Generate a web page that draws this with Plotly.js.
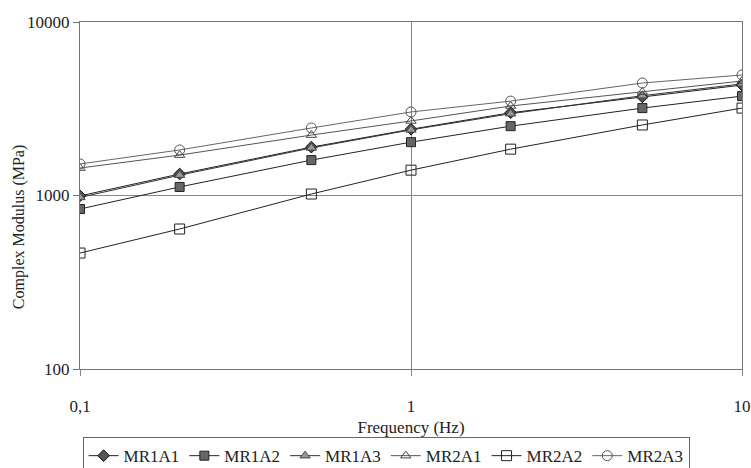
<!DOCTYPE html>
<html>
<head>
<meta charset="utf-8">
<script src="https://cdn.plot.ly/plotly-3.0.1.min.js"></script>
<style>html,body{margin:0;padding:0;background:#fff;}#chart{width:751px;height:468px;}</style>
</head>
<body>
<div id="chart"></div>
<script>
var frequency = [0.1, 0.2, 0.5, 1, 2, 5, 10];
var seriesNames = ["MR1A1", "MR1A2", "MR1A3", "MR2A1", "MR2A2", "MR2A3"];
var MR1A1 = [995, 1330, 1900, 2410, 3000, 3700, 4330];
var MR1A2 = [836, 1120, 1600, 2030, 2510, 3190, 3740];
var MR1A3 = [975, 1310, 1880, 2390, 2960, 3760, 4400];
var MR2A1 = [1440, 1710, 2230, 2690, 3280, 3950, 4570];
var MR2A2 = [466, 641, 1020, 1400, 1850, 2550, 3190];
var MR2A3 = [1520, 1830, 2450, 3030, 3500, 4450, 4950];
var yTickVals = [100, 1000, 10000];
var yTickText = ["100", "1000", "10000"];
var xTickVals = [0.1, 1, 10];
var xTickText = ["0,1", "1", "10"];
var xTitle = "Frequency (Hz)";
var yTitle = "Complex Modulus (MPa)";

var seriesValues = [MR1A1, MR1A2, MR1A3, MR2A1, MR2A2, MR2A3];
var styles = [
  {symbol: "diamond", color: "#555", line: "#111", lc: "#222", size: 9},
  {symbol: "square", color: "#666", line: "#222", lc: "#222", size: 9},
  {symbol: "triangle-up", color: "#999", line: "#444", lc: "#333", size: 9},
  {symbol: "triangle-up-open", color: "#444", line: "#444", lc: "#555", size: 9},
  {symbol: "square-open", color: "#222", line: "#222", lc: "#222", size: 10},
  {symbol: "circle-open", color: "#555", line: "#555", lc: "#666", size: 10}
];
var traces = seriesNames.map(function(n, i) {
  return {
    x: frequency, y: seriesValues[i], name: n, type: "scatter", mode: "lines+markers",
    line: {color: styles[i].lc, width: 1},
    marker: {symbol: styles[i].symbol, size: styles[i].size, color: styles[i].color,
             line: {color: styles[i].line, width: 1}}
  };
});
var ff = "Liberation Serif, Times New Roman, serif";
var layout = {
  width: 751, height: 468,
  margin: {l: 80, r: 9, t: 22, b: 99},
  paper_bgcolor: "#fff", plot_bgcolor: "#fff",
  font: {family: ff, color: "#222"},
  showlegend: true,
  xaxis: {
    type: "log", range: [-1, 1], tickvals: xTickVals, ticktext: xTickText,
    showgrid: true, gridcolor: "#888", gridwidth: 1,
    showline: true, linecolor: "#777", mirror: true,
    ticks: "outside", ticklen: 6, tickcolor: "#888",
    ticklabelstandoff: 16, ticklabeloverflow: "allow",
    tickfont: {family: ff, size: 17, color: "#222"},
    zeroline: false, automargin: false,
    title: {text: xTitle, font: {family: ff, size: 17, color: "#222"}, standoff: 12}
  },
  yaxis: {
    type: "log", range: [2, 4], tickvals: yTickVals, ticktext: yTickText,
    showgrid: true, gridcolor: "#888", gridwidth: 1,
    showline: true, linecolor: "#777", mirror: true,
    ticks: "outside", ticklen: 6, tickcolor: "#777",
    tickfont: {family: ff, size: 17, color: "#222"},
    zeroline: false, automargin: false
  },
  annotations: [{
    text: yTitle, xref: "paper", yref: "paper", x: -0.093, y: 0.41,
    xanchor: "center", yanchor: "middle", textangle: -90, showarrow: false,
    font: {family: ff, size: 16, color: "#222"}
  }],
  legend: {
    orientation: "h", xref: "container", yref: "container",
    x: 0.11, xanchor: "left", y: 0.066, yanchor: "top",
    bordercolor: "#666", borderwidth: 1, bgcolor: "#fff",
    font: {family: ff, size: 17, color: "#222"},
    itemwidth: 30, tracegroupgap: 0
  }
};
Plotly.newPlot("chart", traces, layout, {displayModeBar: false, staticPlot: true});
</script>
</body>
</html>
